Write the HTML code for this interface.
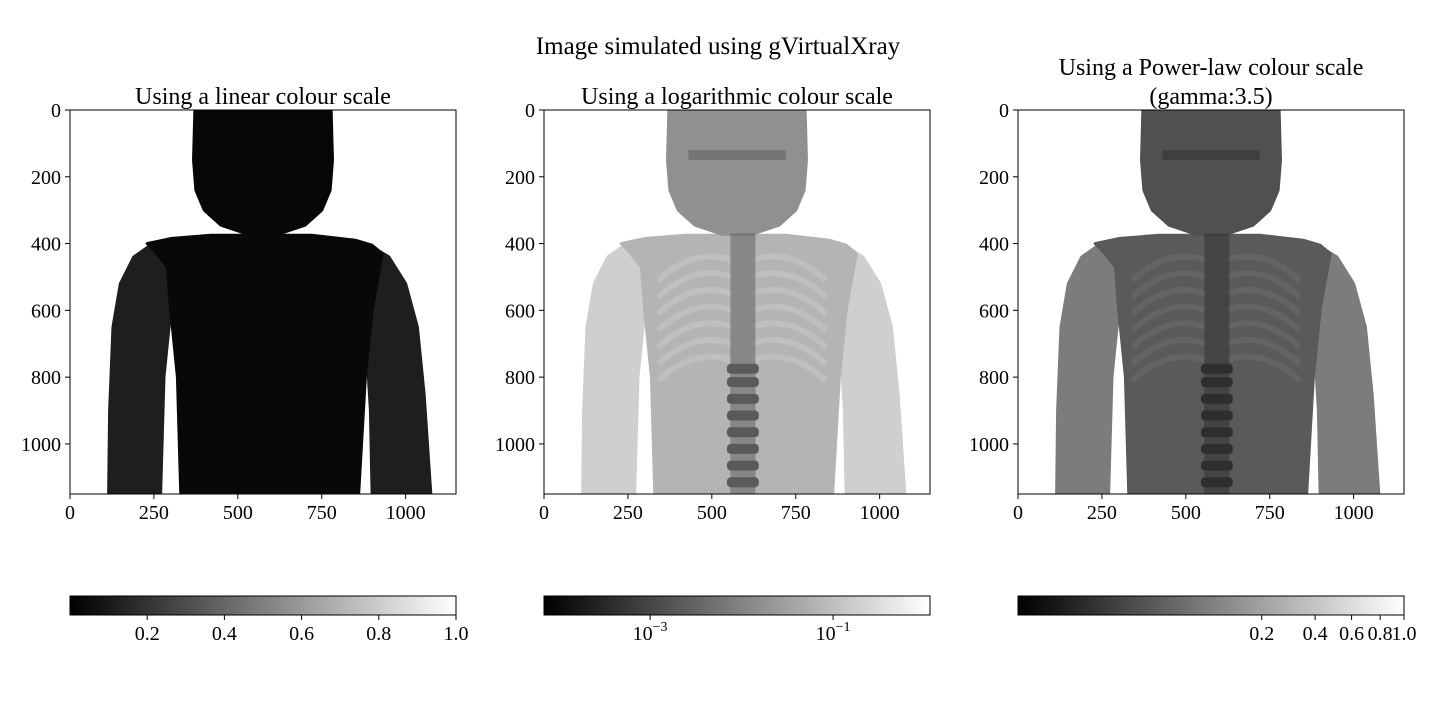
<!DOCTYPE html>
<html><head><meta charset="utf-8"><style>
body{margin:0;background:#fff;}
svg{display:block;font-family:"Liberation Serif",serif;}
</style></head><body>
<svg id="c" width="1440" height="720" viewBox="0 0 1440 720" xmlns="http://www.w3.org/2000/svg">
<text x="718" y="54" font-size="25" text-anchor="middle">Image simulated using gVirtualXray</text>
</svg>
<script>
const xTicks=[0,250,500,750,1000];
const yTicks=[0,200,400,600,800,1000];
const panelTitles=[["Using a linear colour scale"],["Using a logarithmic colour scale"],["Using a Power-law colour scale","(gamma:3.5)"]];
const linTicks=[0.2,0.4,0.6,0.8,1.0];
const logTicks=[-3,-1];
const powTicks=[0.2,0.4,0.6,0.8,1.0];
const powGamma=3.5;
const logRange=[-4.16,0.06];
// shades per panel: torso, arms, head, spine, ribs
const shades=[["#080808","#1e1e1e","#060606","#050505","#0c0c0c"],["#b4b4b4","#cfcfcf","#909090","#5a5a5a","#c6c6c6"],["#5a5a5a","#7c7c7c","#505050","#2e2e2e","#6a6a6a"]];
const panelX=[70,544,1018];
const NS="http://www.w3.org/2000/svg";
const svg=document.getElementById('c');
function el(t,a,p){const e=document.createElementNS(NS,t);for(const k in a)e.setAttribute(k,a[k]);(p||svg).appendChild(e);return e;}
const W=386,H=384,Y0=110,EXT=1150;
const torso=[[330,1150],[320,800],[300,600],[290,470],[250,420],[230,400],[300,385],[420,375],[720,375],[850,390],[900,405],[930,430],[900,600],[880,800],[860,1150]];
const armL=[[115,1150],[118,900],[128,650],[150,520],[190,440],[240,405],[300,420],[300,600],[280,800],[270,1150]];
const armR=[[900,1150],[895,900],[880,650],[870,470],[900,410],[950,440],[1000,520],[1035,650],[1055,850],[1075,1150]];
const head=[[372,0],[778,0],[782,150],[775,240],[750,300],[700,345],[620,372],[530,372],[450,345],[400,300],[375,240],[368,150]];
const vert=[760,800,850,900,950,1000,1050,1100];
const ribs=[450,500,550,600,650,700,750];
for(let p=0;p<3;p++){
 const ox=panelX[p];
 const sx=v=>ox+v*W/EXT, sy=v=>Y0+v*H/EXT;
 const g=el('g',{});
 
 
 const sh=shades[p];
 const clip=el('clipPath',{id:'cl'+p},g);el('rect',{x:ox,y:Y0,width:W,height:H},clip);
 const img=el('g',{'clip-path':'url(#cl'+p+')'},g);
 
 
 const poly=(pts,f,n)=>{const q=el('polygon',{points:pts.map(a=>sx(a[0])+','+sy(a[1])).join(' '),fill:f,stroke:f,'stroke-linejoin':'round','stroke-width':3},img);};
 poly(armL,sh[1],'left-arm');poly(armR,sh[1],'right-arm');poly(torso,sh[0],'torso');poly(head,sh[2],'head');
 if(p>0){
  ribs.forEach(r=>{const q=el('path',{d:`M${sx(340)},${sy(r+60)} Q${sx(450)},${sy(r-40)} ${sx(560)},${sy(r)} M${sx(840)},${sy(r+60)} Q${sx(730)},${sy(r-40)} ${sx(620)},${sy(r)}`,stroke:sh[4],'stroke-width':6,fill:'none',opacity:0.6},img);});
  const sp=el('rect',{x:sx(555),y:sy(370),width:sx(630)-sx(555),height:sy(1150)-sy(370),fill:sh[3],opacity:0.5},img);
  
  vert.forEach(v=>{const q=el('rect',{x:sx(545),y:sy(v),width:sx(640)-sx(545),height:H*30/EXT,rx:4,fill:sh[3]},img);});
  const eyes=el('rect',{x:sx(430),y:sy(120),width:sx(720)-sx(430),height:H*30/EXT,fill:sh[3],opacity:0.5},img);
  
 }
 const fr=el('rect',{x:ox,y:Y0,width:W,height:H,fill:'none',stroke:'#000','stroke-width':1},g);
 
 xTicks.forEach(t=>{el('line',{x1:sx(t),x2:sx(t),y1:Y0+H,y2:Y0+H+5,stroke:'#000'},g);const tx=el('text',{x:sx(t),y:Y0+H+25,'font-size':20,'text-anchor':'middle'},g);tx.textContent=t;});
 yTicks.forEach(t=>{el('line',{x1:ox-5,x2:ox,y1:sy(t),y2:sy(t),stroke:'#000'},g);const tx=el('text',{x:ox-9,y:sy(t)+7,'font-size':20,'text-anchor':'end'},g);tx.textContent=t;});
 const tl=panelTitles[p];
 tl.forEach((s,i)=>{const tx=el('text',{x:ox+W/2,y:104-(tl.length-1-i)*29,'font-size':24,'text-anchor':'middle'},g);tx.textContent=s;});
 const cb=el('g',{},g);
 const gr=el('linearGradient',{id:'gr'+p},cb);el('stop',{offset:0,'stop-color':'#000'},gr);el('stop',{offset:1,'stop-color':'#fff'},gr);
 el('rect',{x:ox,y:596,width:W,height:19,fill:'url(#gr'+p+')',stroke:'#000','stroke-width':1},cb);
 let ticks,pos,lab;
 if(p==0){ticks=linTicks;pos=v=>ox+v*W;lab=v=>v.toFixed(1);}
 else if(p==1){ticks=logTicks;pos=v=>ox+(v-logRange[0])/(logRange[1]-logRange[0])*W;lab=null;}
 else {ticks=powTicks;pos=v=>ox+Math.pow(v,1/powGamma)*W;lab=v=>v==1?'1.0':String(v);}
 ticks.forEach(t=>{const x=pos(t);el('line',{x1:x,x2:x,y1:615,y2:620,stroke:'#000'},cb);
  const tx=el('text',{x:x,y:640,'font-size':20,'text-anchor':'middle'},cb);
  if(lab)tx.textContent=lab(t);else{tx.textContent='10';const ts=el('tspan',{dy:-9,'font-size':14},tx);ts.textContent='\u2212'+(-t);}
  });
 svg.appendChild(g);
}
</script>
</body></html>
